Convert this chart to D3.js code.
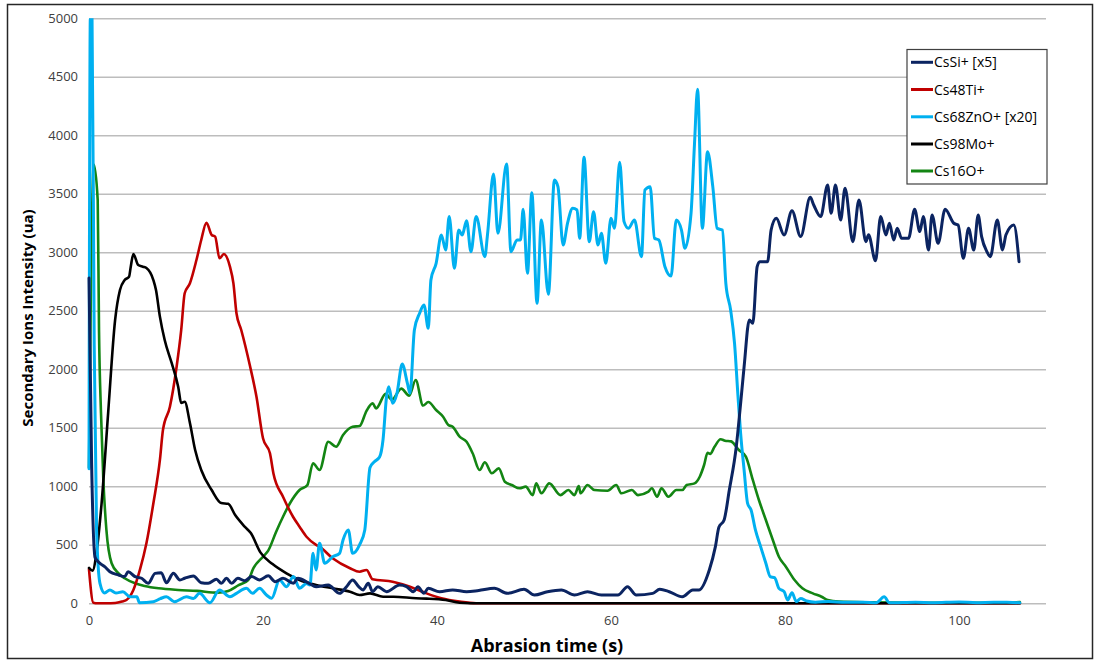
<!DOCTYPE html>
<html>
<head>
<meta charset="utf-8">
<script src="https://cdn.jsdelivr.net/npm/d3@7"></script>
<style>
  html, body { margin: 0; padding: 0; background: #fff; }
  svg { display: block; }
</style>
</head>
<body>
<svg id="chart" width="1094" height="660"></svg>
<script>
// ---- Data (time in s, intensity in ua) ----
const seriesNames = ["CsSi+ [x5]", "Cs48Ti+", "Cs68ZnO+ [x20]", "Cs98Mo+", "Cs16O+"];
const seriesColors = ["#0b2461", "#c00000", "#00b0f0", "#000000", "#138513"];
const xTicks = [0, 20, 40, 60, 80, 100];
const yTicks = [0, 500, 1000, 1500, 2000, 2500, 3000, 3500, 4000, 4500, 5000];

const siData = [[0,2780],[0.3,1200],[0.7,390],[1.3,340],[1.8,313],[2.4,270],[3.4,242],[4.1,228],[4.5,270],[5.3,228],[6.05,214],[6.8,171],[7.6,256],[8.3,262],[8.9,176],[9.7,256],[10.45,199],[11,214],[12,233],[12.9,176],[13.7,171],[14.65,205],[15.2,171],[15.8,214],[16.4,171],[17.1,214],[17.9,193],[18.7,228],[19.6,199],[20.6,235],[21.4,185],[22.3,214],[23.5,171],[24,214],[25.3,171],[26.1,142],[27.5,156],[28.8,85],[29.6,142],[30.3,199],[31,142],[31.5,114],[32.1,171],[32.6,99],[33.2,142],[34.2,99],[35.7,156],[36.5,142],[37.3,99],[37.8,142],[38.5,85],[39,128],[40.3,99],[41.8,114],[43.4,99],[44.8,110],[46.6,128],[48.1,85],[50,120],[51.2,71],[52.7,99],[54.3,114],[55.8,71],[57.3,99],[58.9,71],[60.8,71],[61.9,142],[62.9,71],[64.8,85],[65.6,120],[66.7,99],[68.2,56],[69.4,114],[70.1,114],[71.3,285],[72,484],[72.4,650],[73,712],[73.6,968],[74.4,1338],[74.9,1709],[75.3,2022],[75.9,2421],[76.3,2393],[76.8,2877],[77.1,2920],[78,2920],[78.4,3190],[79,3290],[79.9,3148],[80.8,3356],[81.8,3134],[82.9,3470],[83.3,3404],[84.1,3305],[84.9,3575],[85.3,3333],[85.8,3575],[86.4,3276],[86.9,3547],[87.8,3091],[88.5,3447],[89.3,3091],[89.6,3150],[90.4,2928],[91,3305],[91.6,3148],[92,3248],[92.5,3105],[92.9,3205],[93.4,3120],[94.2,3120],[94.9,3368],[95.5,3177],[95.9,3305],[96.5,3020],[96.9,3319],[97.6,3077],[98.4,3368],[99.4,3248],[99.9,3233],[100.5,2949],[101.1,3205],[101.7,3020],[102.2,3319],[102.6,3134],[103.2,3006],[103.6,2963],[104.4,3276],[105,3020],[105.4,3150],[106.3,3233],[106.9,2920]];

const tiData = [[0,290],[0.5,5],[1,0],[2,0],[3,2],[3.8,15],[4.3,28],[5.1,114],[5.85,285],[6.6,513],[7.4,855],[8.15,1225],[8.5,1481],[9.3,1680],[10.07,2022],[10.6,2336],[11,2650],[11.6,2735],[12.35,2934],[12.9,3105],[13.5,3253],[14.1,3148],[14.5,3134],[15,2949],[15.5,2985],[16.2,2877],[16.6,2735],[16.95,2479],[17.5,2336],[18.5,2030],[19.25,1766],[20,1410],[20.8,1282],[21.2,1110],[22.3,911],[23.45,740],[24.2,655],[25,569],[26.1,500],[26.5,484],[28,385],[30,300],[31.1,270],[31.9,285],[32.6,205],[34.9,185],[36.9,142],[38.8,85],[40.5,43],[42.6,14],[44.5,0],[60,0],[80,0],[107,0]];

const znData = [[0,1150],[0.15,5000],[0.35,5000],[0.6,2200],[0.87,627],[1.26,171],[1.8,88],[2.4,114],[3.1,88],[3.9,99],[4.7,56],[5.5,56],[5.8,5],[7.4,14],[8.2,40],[8.9,56],[9.8,14],[11.2,56],[12,40],[12.7,85],[13.9,5],[15,114],[16.2,56],[16.95,85],[18.1,128],[18.8,85],[19.6,128],[20.4,71],[21,43],[21.9,199],[22.7,142],[23.5,228],[24.2,128],[25,170],[25.4,156],[25.75,427],[26.1,285],[26.5,513],[27.1,342],[28,398],[28.8,427],[29.2,541],[29.8,627],[30.3,427],[31.1,500],[31.7,627],[32.3,1160],[32.8,1210],[33.4,1250],[33.8,1400],[34.2,1766],[34.45,1851],[34.9,1710],[35.4,1795],[36,2045],[36.6,1880],[36.9,1795],[37.4,2336],[38,2479],[38.5,2550],[39,2350],[39.3,2763],[39.9,2906],[40.5,3148],[41,3020],[41.4,3305],[42,2863],[42.5,3190],[42.9,3148],[43.4,3270],[43.9,3005],[44.5,3305],[45.5,2963],[45.8,3148],[46.5,3669],[47,3162],[48,3755],[48.5,3005],[49.2,3105],[49.6,3105],[49.9,3368],[50.4,2820],[50.9,3510],[51.5,2564],[52,3276],[52.8,2641],[53.5,3618],[53.9,3561],[54.5,3062],[55,3248],[55.6,3376],[56.1,3362],[56.4,3120],[56.9,3812],[57.5,3091],[58,3347],[58.5,3062],[58.9,3162],[59.4,2906],[60,3290],[60.4,3205],[61,3769],[61.5,3262],[62,3205],[62.7,3276],[63.5,2963],[63.9,3533],[64.5,3561],[65,3120],[65.5,3105],[66.2,2877],[66.9,2797],[67.5,3276],[68.1,3190],[68.5,3034],[69.2,3333],[69.6,3931],[69.95,4393],[70.5,3205],[71.1,3860],[71.7,3561],[72.2,3205],[72.8,3190],[73.2,2735],[73.75,2507],[74.2,2222],[74.6,1766],[74.9,1453],[75.3,1139],[75.7,855],[76.1,797],[76.6,627],[77.2,484],[77.8,342],[78.3,228],[78.8,219],[79.3,128],[79.9,100],[80.3,28],[80.8,91],[81.3,15],[81.8,40],[82.5,20],[83.5,10],[85,15],[87,8],[89,10],[90.5,5],[91.4,56],[92,5],[95,10],[97,5],[100,12],[102,5],[104,10],[105.5,8],[107,5]];

const moData = [[0,302],[0.4,279],[0.9,455],[1.45,857],[2.2,1626],[3,2421],[3.56,2678],[4.1,2763],[4.6,2791],[4.8,2877],[5.1,2985],[5.66,2891],[6.2,2877],[6.6,2866],[7.4,2763],[7.7,2678],[8.15,2450],[8.7,2250],[9.5,2054],[10.25,1851],[10.6,1712],[11,1723],[11.6,1541],[12.2,1310],[12.9,1139],[14.1,968],[15.2,857],[16,850],[16.8,754],[17.9,655],[18.6,600],[19.7,435],[21.1,335],[22.7,256],[24.2,199],[26.1,156],[28,128],[30,99],[31.1,71],[32.3,85],[33.8,56],[35,56],[37.6,43],[38.8,40],[41,28],[42.6,5],[45,0],[60,0],[80,0],[107,0]];

const oData = [[0,1160],[0.55,3750],[1.0,3447],[1.15,2336],[1.38,1624],[1.65,1054],[2.0,627],[2.6,342],[3.4,256],[4.1,214],[5.3,171],[6.4,148],[8,128],[10.25,114],[12.4,106],[14.8,91],[16,105],[17.2,155],[18.3,199],[18.9,300],[20,398],[20.6,450],[21.5,610],[22.3,740],[23.1,855],[24.2,968],[25.1,1010],[25.75,1197],[26.5,1139],[27.5,1381],[28.4,1338],[29.2,1438],[30.3,1509],[31.1,1515],[31.9,1645],[32.6,1709],[33,1666],[34.1,1790],[34.8,1740],[35.9,1835],[36.8,1775],[37.55,1908],[38.4,1690],[39,1720],[39.9,1652],[40.7,1595],[41.3,1524],[41.8,1509],[42.6,1424],[43.4,1381],[44.1,1282],[44.9,1139],[45.5,1205],[46.3,1111],[47.1,1153],[47.8,1039],[48.6,1011],[49.5,983],[50.2,997],[51,925],[51.4,1025],[52,940],[52.9,1025],[54.2,925],[55.1,968],[55.8,925],[56.3,1002],[56.5,940],[57.3,1011],[58.1,968],[59.6,962],[60.6,1011],[61.2,940],[62.4,968],[63.1,925],[64.3,954],[64.7,983],[65.3,911],[65.8,983],[66.6,911],[67.5,968],[68.2,968],[68.7,1011],[69.6,1025],[70.2,1082],[70.7,1182],[71.1,1287],[71.4,1277],[71.9,1338],[72.6,1402],[73.1,1390],[73.8,1384],[74.7,1310],[75.5,1253],[76.3,1054],[77,883],[77.8,712],[78.6,541],[79.3,398],[80.1,313],[81.1,199],[82,128],[83.2,85],[84.2,56],[84.9,28],[86.2,14],[90,8],[95,5],[100,5],[105,5],[107,10]];

const allSeries = [siData, tiData, znData, moData, oData];
// draw order (back to front)
const drawOrder = [4, 1, 3, 2, 0];

// ---- Layout ----
const svg = d3.select("#chart");
const W = 1094, H = 660;
const plot = { left: 89, right: 1046, top: 18.3, bottom: 603.3 };
const font = "'Open Sans', 'Noto Sans', 'Liberation Sans', sans-serif";

svg.append("rect").attr("x", 7.5).attr("y", 4.5).attr("width", 1085).attr("height", 654)
  .attr("fill", "#fff").attr("stroke", "#262626").attr("stroke-width", 1.5);

const x = d3.scaleLinear().domain([0, 110]).range([plot.left, plot.right]);
const y = d3.scaleLinear().domain([0, 5000]).range([plot.bottom, plot.top]);

// gridlines
const yAxisG = svg.append("g").attr("transform", `translate(${plot.left},0)`)
  .call(d3.axisLeft(y).tickValues(yTicks).tickSize(-(plot.right - plot.left)).tickPadding(11).tickFormat(d3.format("d")));
yAxisG.select(".domain").remove();
yAxisG.selectAll(".tick line").attr("stroke", "#bdbdbd").attr("stroke-width", 1.5);
yAxisG.selectAll(".tick text").attr("font-family", font).attr("font-size", 13).attr("fill", "#404040");

const xAxisG = svg.append("g").attr("transform", `translate(0,${plot.bottom})`)
  .call(d3.axisBottom(x).tickValues(xTicks).tickSize(0).tickPadding(12));
xAxisG.select(".domain").remove();
xAxisG.selectAll(".tick text").attr("font-family", font).attr("font-size", 13).attr("fill", "#404040");

// clip
svg.append("clipPath").attr("id", "clip").append("rect")
  .attr("x", plot.left - 2).attr("y", plot.top).attr("width", plot.right - plot.left + 4).attr("height", plot.bottom - plot.top + 2);

const line = d3.line().x(d => x(d[0])).y(d => y(d[1])).curve(d3.curveMonotoneX);
const linesG = svg.append("g").attr("clip-path", "url(#clip)");
drawOrder.forEach(i => {
  linesG.append("path").datum(allSeries[i])
    .attr("fill", "none").attr("stroke", seriesColors[i])
    .attr("stroke-width", i === 2 || i === 0 ? 3 : 2.6)
    .attr("stroke-linejoin", "round").attr("stroke-linecap", "round")
    .attr("d", line);
});

// axis titles
svg.append("text").attr("x", 547).attr("y", 652).attr("text-anchor", "middle")
  .attr("font-family", font).attr("font-weight", "bold").attr("font-size", 18).attr("fill", "#000")
  .text("Abrasion time (s)");
svg.append("text").attr("transform", "translate(33,318) rotate(-90)").attr("text-anchor", "middle")
  .attr("font-family", font).attr("font-weight", "bold").attr("font-size", 15).attr("fill", "#000")
  .text("Secondary Ions Intensity (ua)");

// legend
const leg = svg.append("g");
leg.append("rect").attr("x", 907).attr("y", 49.5).attr("width", 140).attr("height", 134.5)
  .attr("fill", "#fff").attr("stroke", "#404040").attr("stroke-width", 1.2);
const legY = [62.3, 89.5, 116.8, 144, 171];
seriesNames.forEach((name, i) => {
  leg.append("line").attr("x1", 911).attr("x2", 933).attr("y1", legY[i]).attr("y2", legY[i])
    .attr("stroke", seriesColors[i]).attr("stroke-width", 3);
  leg.append("text").attr("x", 934).attr("y", legY[i] + 5).attr("font-family", font)
    .attr("font-size", 14).attr("fill", "#000").text(name);
});
</script>
</body>
</html>
